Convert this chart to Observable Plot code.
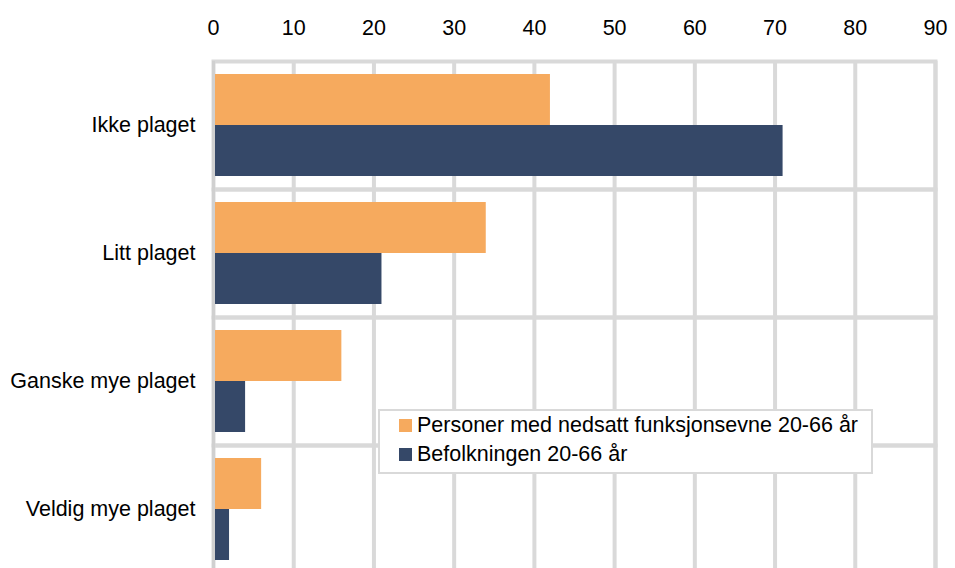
<!DOCTYPE html>
<html>
<head>
<meta charset="utf-8">
<script src="https://cdn.jsdelivr.net/npm/d3@7"></script>
<script src="https://cdn.jsdelivr.net/npm/@observablehq/plot@0.6"></script>
<style>
  html, body { margin: 0; padding: 0; background: #fff; overflow: hidden; }
  #wrap { position: relative; width: 955px; height: 568px; font-family: "Liberation Sans", Arial, sans-serif; }
  #legend { position: absolute; left: 378px; top: 409px; width: 491px; height: 61px;
    background: #fff; border: 2.5px solid #d9d9d9; font-size: 21.5px; color: #000; }
  .item { position: absolute; left: 19px; display: flex; align-items: center; white-space: nowrap; }
  .sw { width: 13px; height: 13px; margin-right: 5px; }
</style>
</head>
<body>
<div id="wrap"></div>
<script>
const categories = ["Ikke plaget", "Litt plaget", "Ganske mye plaget", "Veldig mye plaget"];
const seriesNames = ["Personer med nedsatt funksjonsevne 20-66 år", "Befolkningen 20-66 år"];
const disabledValues = [42, 34, 16, 6];
const populationValues = [71, 21, 4, 2];
const xTicks = [0, 10, 20, 30, 40, 50, 60, 70, 80, 90];
const colors = ["#F6AA5E", "#354868"];

const rows = [];
categories.forEach((c, i) => {
  rows.push({category: c, series: seriesNames[0], value: disabledValues[i]});
  rows.push({category: c, series: seriesNames[1], value: populationValues[i]});
});

const chart = Plot.plot({
  width: 955,
  height: 578,
  marginTop: 60,
  marginLeft: 213,
  marginRight: 20,
  marginBottom: 4,
  style: {fontFamily: "'Liberation Sans', Arial, sans-serif", fontSize: "21.5px", color: "#000", background: "#fff"},
  x: {domain: [0, 90], axis: "top", ticks: xTicks, tickSize: 0, tickPadding: 27, label: null},
  y: {domain: seriesNames, axis: null, paddingInner: 0, paddingOuter: 0.243},
  fy: {domain: categories, axis: "left", padding: 0, tickSize: 0, tickPadding: 18, label: null},
  color: {domain: seriesNames, range: colors},
  marks: [
    Plot.ruleX(xTicks.filter(d => d > 0), {stroke: "#d9d9d9", strokeWidth: 4}),
    Plot.frame({stroke: "#d9d9d9", strokeWidth: 4}),
    Plot.barX(rows, {fy: "category", y: "series", x: "value", fill: "series"}),
    Plot.ruleX([0], {stroke: "#d0d0d0", strokeWidth: 3})
  ]
});

const wrap = document.getElementById("wrap");
wrap.appendChild(chart);

const legend = document.createElement("div");
legend.id = "legend";
seriesNames.forEach((s, i) => {
  const item = document.createElement("div");
  item.className = "item";
  item.style.top = (i === 0 ? 1.5 : 31) + "px";
  const sw = document.createElement("span");
  sw.className = "sw";
  sw.style.background = colors[i];
  const t = document.createElement("span");
  t.textContent = s;
  item.appendChild(sw);
  item.appendChild(t);
  legend.appendChild(item);
});
wrap.appendChild(legend);
</script>
</body>
</html>
